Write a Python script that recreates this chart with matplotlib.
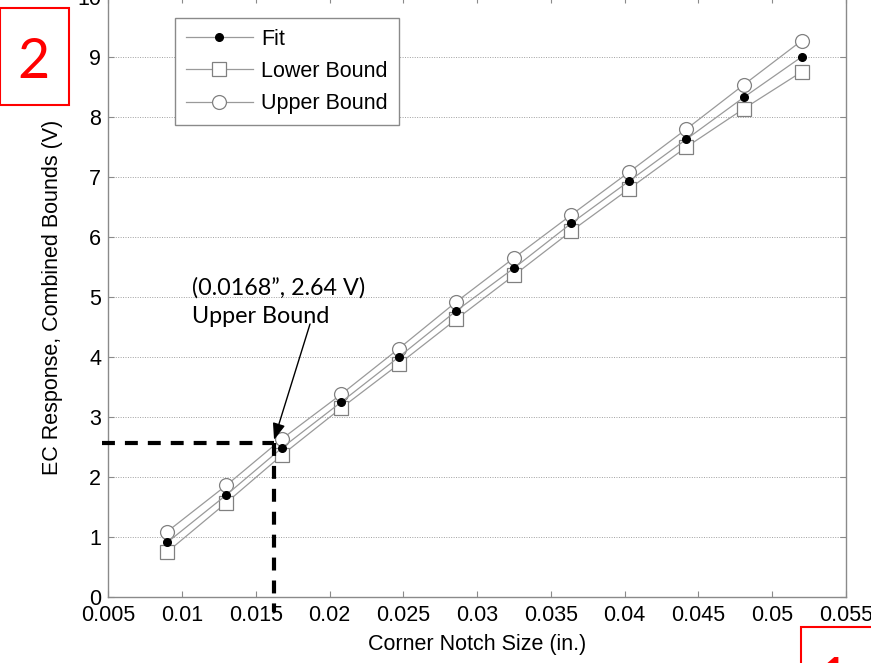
import matplotlib
matplotlib.use("Agg")
import matplotlib.pyplot as plt
from matplotlib.patches import Rectangle
from matplotlib.ticker import FuncFormatter

# Corner notch sizes (in.) and EC responses (V)
notch_size = [0.009, 0.013, 0.0168, 0.0208, 0.0247, 0.0286, 0.0325, 0.0364, 0.0403, 0.0442, 0.0481, 0.052]
fit = [0.91, 1.70, 2.49, 3.25, 4.00, 4.77, 5.48, 6.23, 6.93, 7.63, 8.33, 9.00]
upper_bound = [1.09, 1.86, 2.64, 3.38, 4.14, 4.92, 5.65, 6.37, 7.08, 7.80, 8.54, 9.27]
lower_bound = [0.75, 1.57, 2.37, 3.15, 3.88, 4.63, 5.36, 6.10, 6.80, 7.50, 8.14, 8.75]

x_ticks = [0.005, 0.01, 0.015, 0.02, 0.025, 0.03, 0.035, 0.04, 0.045, 0.05, 0.055]
y_ticks = list(range(0, 11))

# Reference lines marking the detection threshold
guide_x = 0.01624
guide_y = 2.56
guide_left = 0.00458
guide_bottom = -0.25
note_text = "(0.0168\u201d, 2.64 V)\nUpper Bound"
note_xy = (0.01868, 4.55)

W, H = 871, 663
fig = plt.figure(figsize=(W / 100, H / 100), dpi=100)
fig.patch.set_facecolor("white")

ax = fig.add_axes([108.25 / W, (H - 597) / H, 737.5 / W, 600 / H])
ax.set_xlim(0.005, 0.055)
ax.set_ylim(0, 10)
ax.set_xticks(x_ticks)
ax.set_yticks(y_ticks)
ax.xaxis.set_major_formatter(FuncFormatter(lambda v, p: "%g" % round(v, 4)))

for lab in ax.get_xticklabels() + ax.get_yticklabels():
    lab.set_fontfamily("Liberation Sans")
    lab.set_fontsize(15.5)

spine_col = "#8a8a8a"
for s in ax.spines.values():
    s.set_color(spine_col)
    s.set_linewidth(1.0)
ax.tick_params(direction="in", length=4.5, width=0.8, color=spine_col,
               top=True, right=True, labelcolor="black")
ax.tick_params(axis="x", pad=6)
ax.tick_params(axis="y", pad=5)

ax.yaxis.grid(True, linestyle=(0, (1, 1.5)), color="#a0a0a0", linewidth=0.7)
ax.set_axisbelow(True)

line_col = "#9a9a9a"
mk_edge = "#808080"
ax.plot(notch_size, upper_bound, color=line_col, lw=0.9, marker="o", ms=10,
        mfc="white", mec=mk_edge, mew=0.9, label="Upper Bound", zorder=3)
ax.plot(notch_size, lower_bound, color=line_col, lw=0.9, marker="s", ms=10,
        mfc="white", mec=mk_edge, mew=0.9, label="Lower Bound", zorder=3)
ax.plot(notch_size, fit, color=line_col, lw=0.9, marker="o", ms=5.5,
        mfc="black", mec="black", label="Fit", zorder=4)

# Dashed guide lines
dash = (0, (3.1, 2.4))
ax.plot([guide_left, guide_x], [guide_y, guide_y], color="black", lw=3,
        linestyle=dash, clip_on=False, zorder=5)
ax.plot([guide_x, guide_x], [guide_y, guide_bottom], color="black", lw=3,
        linestyle=dash, clip_on=False, zorder=5)

# Annotation with arrow
ax.annotate("", xy=(guide_x, 2.62), xytext=note_xy,
            arrowprops=dict(arrowstyle="-|>,head_length=1.0,head_width=0.38",
                            color="black", lw=1.0, shrinkA=0, shrinkB=0),
            zorder=6)
ax.text(0.005 + (192 - 108.25) / 14750, (597 - 277) / 60, note_text,
        fontfamily="Lato", fontsize=16.8, va="top", ha="left",
        linespacing=1.45, zorder=6)

ax.set_xlabel("Corner Notch Size (in.)", fontfamily="Liberation Sans", fontsize=15.5)
ax.xaxis.set_label_coords(0.5, -0.062)
ax.set_ylabel("EC Response, Combined Bounds (V)", fontfamily="Liberation Sans", fontsize=15.5)
ax.yaxis.set_label_coords(-0.061, 0.5)

handles, labels = ax.get_legend_handles_labels()
order = [2, 1, 0]
leg = ax.legend([handles[i] for i in order], [labels[i] for i in order],
                loc="upper left", bbox_to_anchor=(175 / W, 1 - 18 / H),
                bbox_transform=fig.transFigure, borderaxespad=0,
                prop={"family": "Liberation Sans", "size": 15.5},
                handlelength=3.1, handletextpad=0.4, labelspacing=0.52,
                borderpad=0.5, fancybox=False, framealpha=1,
                edgecolor=spine_col)
leg.get_frame().set_linewidth(1.0)

# Red panel markers
red = "#ff0000"
fig.patches.append(Rectangle((0, (H - 105) / H), 69 / W, 97 / H,
                             transform=fig.transFigure, fill=False,
                             edgecolor=red, lw=1.5, figure=fig))
fig.text(33 / W, (H - 78) / H, "2", color=red, fontfamily="Lato",
         fontsize=40, ha="center", va="baseline")
fig.patches.append(Rectangle((801 / W, -0.2), 0.2, (H - 627) / H + 0.2,
                             transform=fig.transFigure, fill=False,
                             edgecolor=red, lw=1.5, figure=fig))
fig.text(834 / W, (H - 697) / H, "1", color=red, fontfamily="Lato",
         fontsize=40, ha="center", va="baseline")

fig.savefig("out.png", dpi=100)
